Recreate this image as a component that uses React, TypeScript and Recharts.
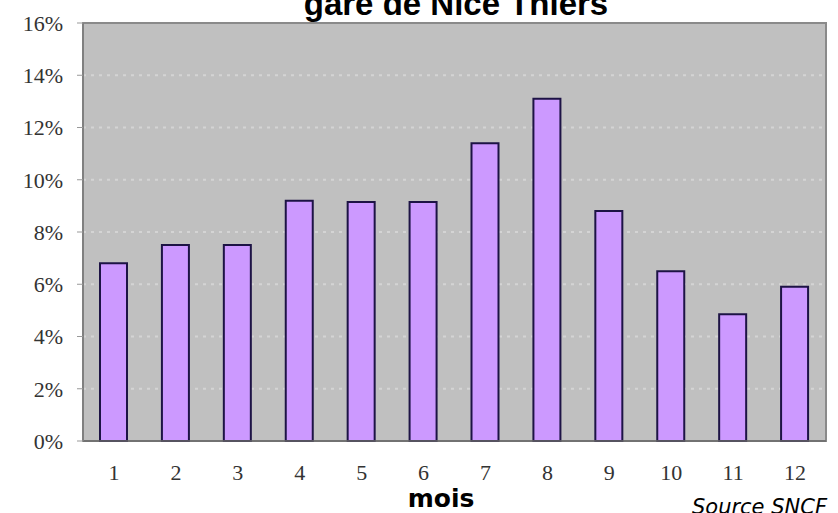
import React from 'react'
import { BarChart, Bar, XAxis, YAxis, CartesianGrid, ReferenceArea } from 'recharts'

// mois 1..12
const months = ['1', '2', '3', '4', '5', '6', '7', '8', '9', '10', '11', '12']
// part du trafic annuel (%)
const shares = [6.8, 7.5, 7.5, 9.2, 9.15, 9.15, 11.4, 13.1, 8.8, 6.5, 4.85, 5.9]
const yTicks = [0, 2, 4, 6, 8, 10, 12, 14, 16]

const data = months.map((m, i) => ({ mois: m, part: shares[i] }))

const tickStyle = { fill: '#333', fontSize: 22, fontFamily: '"Liberation Serif", "Times New Roman", serif' }

export default function App() {
    return (
        <div style={{ position: 'absolute', left: 0, top: 0, width: 838, height: 513, background: '#fff' }}>
            <BarChart
                width={838}
                height={513}
                data={data}
                margin={{ top: 23, right: 12, bottom: 42, left: 0 }}
            >
                <CartesianGrid
                    vertical={false}
                    fill="#c0c0c0"
                    fillOpacity={1}
                    stroke="#d4d4d4"
                    strokeDasharray="3 5"
                    strokeWidth={2}
                />
                <XAxis
                    dataKey="mois"
                    height={30}
                    tickLine={false}
                    axisLine={{ stroke: '#6a6a6a', strokeWidth: 1.5 }}
                    tick={tickStyle}
                    tickMargin={17}
                />
                <YAxis
                    width={83}
                    domain={[0, 16]}
                    ticks={yTicks}
                    interval={0}
                    tickFormatter={(v) => `${v}%`}
                    tick={tickStyle}
                    tickSize={6}
                    tickMargin={14}
                    tickLine={{ stroke: '#999' }}
                    axisLine={{ stroke: '#808080', strokeWidth: 2 }}
                />
                <ReferenceArea y1={0} y2={16} fill="none" stroke="#8a8a8a" strokeWidth={2} />
                <Bar
                    dataKey="part"
                    fill="#cc99ff"
                    stroke="#1d1345"
                    strokeWidth={2}
                    barSize={27}
                    isAnimationActive={false}
                />
            </BarChart>
            <svg
                width={838}
                height={513}
                style={{ position: 'absolute', left: 0, top: 0, pointerEvents: 'none' }}
            >
                <text
                    x={456}
                    y={15}
                    textAnchor="middle"
                    fontFamily='"Liberation Sans", Arial, sans-serif'
                    fontWeight="bold"
                    fontSize={33}
                    fill="#000"
                >
                    gare de Nice Thiers
                </text>
                <text
                    x={441}
                    y={507}
                    textAnchor="middle"
                    fontFamily='"DejaVu Sans", Verdana, sans-serif'
                    fontWeight="bold"
                    fontSize={25}
                    fill="#000"
                >
                    mois
                </text>
                <text
                    x={827}
                    y={514}
                    textAnchor="end"
                    fontFamily='"DejaVu Sans", Verdana, sans-serif'
                    fontStyle="italic"
                    fontSize={21}
                    fill="#000"
                >
                    Source SNCF
                </text>
            </svg>
        </div>
    )
}
